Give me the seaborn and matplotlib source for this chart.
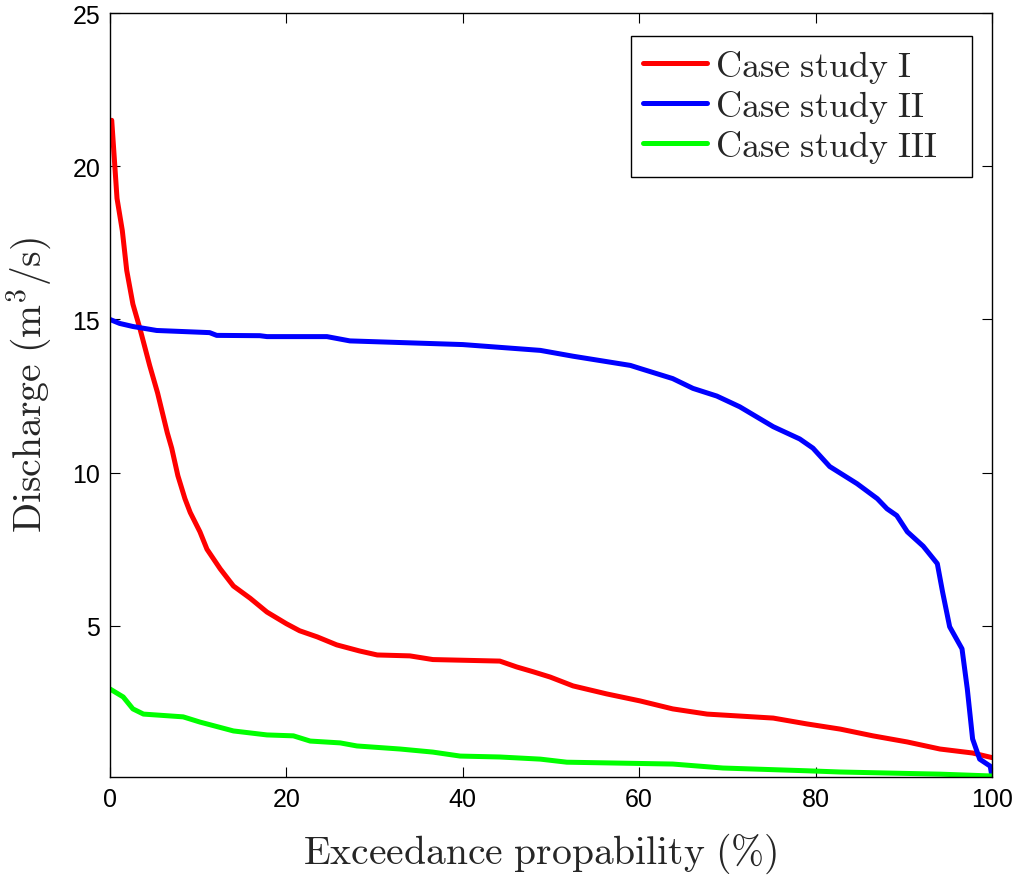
import numpy as np
import pandas as pd
import matplotlib
matplotlib.use("Agg")
import matplotlib.pyplot as plt
import seaborn as sns

# ---- data ----
case1_x = [0.0, 0.2, 0.8, 1.4, 1.9, 2.6, 3.4, 4.5, 5.4, 6.5, 7.0, 7.7, 8.5, 9.1, 10.2, 11.0,
           12.5, 14.0, 15.9, 17.8, 20.0, 21.5, 23.5, 25.7, 28.3, 30.3, 34.0, 36.6, 44.2,
           46.1, 48.0, 49.9, 52.5, 56.3, 60.1, 63.8, 67.7, 75.2, 79.0, 82.8, 86.5, 90.4,
           94.1, 97.8, 100.0]
case1_y = [21.4, 21.5, 18.95, 17.9, 16.6, 15.5, 14.7, 13.5, 12.6, 11.3, 10.8, 9.9, 9.15, 8.7,
           8.07, 7.5, 6.86, 6.3, 5.9, 5.45, 5.07, 4.84, 4.64, 4.38, 4.18, 4.05, 4.02, 3.9,
           3.85, 3.66, 3.5, 3.33, 3.04, 2.78, 2.55, 2.29, 2.12, 1.99, 1.80, 1.63, 1.41, 1.21,
           0.98, 0.85, 0.70]

case2_x = [0.0, 1.1, 2.6, 5.3, 11.3, 12.1, 17.0, 17.8, 24.6, 27.2, 40.0, 48.8, 52.5, 59.0,
           60.1, 63.8, 66.1, 68.8, 71.4, 75.2, 78.2, 79.7, 81.6, 84.7, 87.0, 88.1, 89.2,
           90.4, 92.2, 93.8, 94.4, 95.2, 96.6, 97.2, 97.8, 98.6, 99.8, 100.0]
case2_y = [15.0, 14.87, 14.77, 14.64, 14.57, 14.48, 14.47, 14.44, 14.44, 14.3, 14.18, 13.99,
           13.8, 13.5, 13.4, 13.07, 12.75, 12.5, 12.15, 11.5, 11.1, 10.8, 10.2, 9.64, 9.15,
           8.82, 8.6, 8.07, 7.6, 7.03, 6.1, 4.97, 4.25, 2.94, 1.31, 0.65, 0.42, 0.07]

case3_x = [0.0, 1.5, 2.6, 3.8, 8.3, 10.2, 14.0, 17.8, 20.8, 22.7, 26.1, 28.0, 32.9, 36.6,
           39.7, 44.2, 48.8, 51.8, 63.8, 69.5, 79.0, 82.8, 94.1, 100.0]
case3_y = [2.94, 2.68, 2.29, 2.12, 2.03, 1.86, 1.57, 1.44, 1.41, 1.24, 1.18, 1.08, 0.98,
           0.88, 0.75, 0.72, 0.65, 0.55, 0.49, 0.36, 0.27, 0.23, 0.16, 0.10]

labels = [r"$\mathrm{Case\ study\ I}$", r"$\mathrm{Case\ study\ II}$",
          r"$\mathrm{Case\ study\ III}$"]
colors = ["#ff0000", "#0000ff", "#00ff00"]

xticks = [0, 20, 40, 60, 80, 100]
yticks = [5, 10, 15, 20, 25]

frames = []
for lab, xs, ys in zip(labels, [case1_x, case2_x, case3_x], [case1_y, case2_y, case3_y]):
    frames.append(pd.DataFrame({"x": xs, "y": ys, "case": lab}))
df = pd.concat(frames, ignore_index=True)

sns.set_style("ticks")
plt.rcParams["font.family"] = ["Liberation Sans", "DejaVu Sans"]
plt.rcParams["mathtext.fontset"] = "cm"

fig = plt.figure(figsize=(10.21, 8.78), dpi=100)
ax = fig.add_axes([0.1077, 0.114, 0.8639, 0.870])

sns.lineplot(data=df, x="x", y="y", hue="case", hue_order=labels,
             palette=dict(zip(labels, colors)), linewidth=3.6, ax=ax,
             sort=False, estimator=None)

ax.set_xlim(0, 100)
ax.set_ylim(0.07, 25)
ax.set_xticks(xticks)
ax.set_yticks(yticks)
ax.tick_params(direction="in", length=7, width=0.8, top=True, right=True,
               labelsize=18, colors="black", pad=7)
for s in ax.spines.values():
    s.set_visible(True)
    s.set_linewidth(1.0)
    s.set_color("black")

ax.set_xlabel(r"$\mathrm{Exceedance\ propability\ (\%)}$", fontsize=28.5)
ax.set_ylabel(r"$\mathrm{Discharge\ (m^3/s)}$", fontsize=28.5)
ax.xaxis.set_label_coords(0.488, -0.071)
ax.yaxis.set_label_coords(-0.064, 0.515)

leg = ax.legend(loc="upper left", bbox_to_anchor=(0.5907, 0.7945, 0.3866, 0.1754),
                mode="expand", fontsize=26, frameon=True, fancybox=False,
                edgecolor="black", handlelength=1.77, handletextpad=0.22,
                borderpad=0.33, labelspacing=0.08, borderaxespad=0.0)
leg.get_frame().set_linewidth(1.0)
leg.get_frame().set_alpha(1)

fig.savefig("out.png", dpi=100)
